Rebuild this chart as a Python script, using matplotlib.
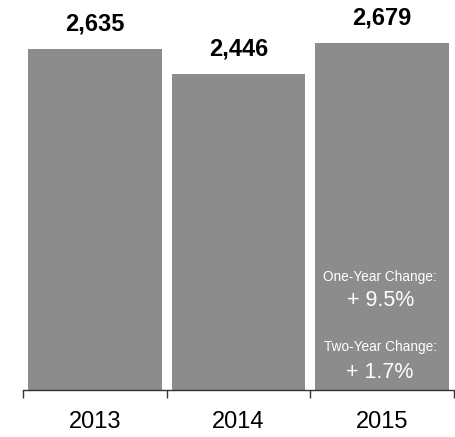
import matplotlib
matplotlib.use("Agg")
import matplotlib.pyplot as plt

plt.rcParams['font.family'] = ['Liberation Sans', 'DejaVu Sans']

years = ["2013", "2014", "2015"]
values = [2635, 2446, 2679]
change_labels = ["One-Year Change:", "Two-Year Change:"]
change_values = ["+ 9.5%", "+ 1.7%"]

fig = plt.figure(figsize=(4.56, 4.37), dpi=100)
ax = fig.add_axes([23/456, 47/437, 431/456, 390/437])

x = list(range(len(years)))
ax.bar(x, values, width=0.93, color="#8c8c8c", zorder=2)
ax.set_xlim(-0.5, 2.5)
ax.set_ylim(0, 3015)

for xi, v in zip(x, values):
    ax.annotate(f"{v:,}", (xi, v), xytext=(0, 25), textcoords="offset pixels",
                ha="center", va="center", fontsize=17, fontweight="bold", color="black")

# inner text for last bar
ax.annotate(change_labels[0], (2, 0), xytext=(-2, 113), textcoords="offset pixels",
            ha="center", va="center", fontsize=9.8, color="white")
ax.annotate(change_values[0], (2, 0), xytext=(-2, 90), textcoords="offset pixels",
            ha="center", va="center", fontsize=15.5, color="white")
ax.annotate(change_labels[1], (2, 0), xytext=(-2, 43), textcoords="offset pixels",
            ha="center", va="center", fontsize=9.8, color="white")
ax.annotate(change_values[1], (2, 0), xytext=(-2, 18), textcoords="offset pixels",
            ha="center", va="center", fontsize=15.5, color="white")

for s in ["top", "right", "left"]:
    ax.spines[s].set_visible(False)
ax.spines["bottom"].set_color("#333333")
ax.spines["bottom"].set_linewidth(1.0)
ax.set_yticks([])
ax.set_xticks([-0.5, 0.5, 1.5, 2.5])
ax.set_xticklabels([])
ax.tick_params(axis="x", length=6, width=1, color="#333333")
ax.set_xticks(x, minor=True)
ax.set_xticklabels(years, minor=True, fontsize=17)
ax.tick_params(axis="x", which="minor", length=0, pad=15)

fig.savefig("out.png", dpi=100)
